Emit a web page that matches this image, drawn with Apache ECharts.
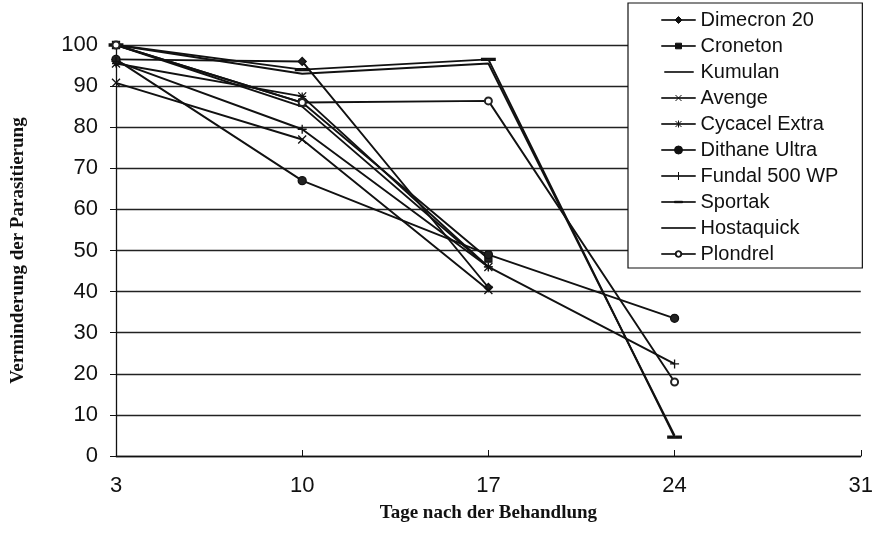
<!DOCTYPE html>
<html><head><meta charset="utf-8">
<script src="https://cdn.jsdelivr.net/npm/echarts@6/dist/echarts.min.js"></script>
<style>html,body{margin:0;padding:0;background:#fff}#c{width:876px;height:553px}</style>
</head><body><div id="c"></div>
<script>
var days = ['3', '10', '17', '24', '31'];
var yTicks = [0, 10, 20, 30, 40, 50, 60, 70, 80, 90, 100];
var names = ['Dimecron 20', 'Croneton', 'Kumulan', 'Avenge', 'Cycacel Extra', 'Dithane Ultra', 'Fundal 500 WP', 'Sportak', 'Hostaquick', 'Plondrel'];
var dimecron = [96.5, 96, 41, null, null];
var croneton = [100, 86, 48, null, null];
var kumulan = [100, 85, 46, null, null];
var avenge = [90.8, 77, 40.4, null, null];
var cycacel = [95.5, 87.5, 46, null, null];
var dithane = [96.5, 67, 49, 33.5, null];
var fundal = [96, 79.5, 46, 22.4, null];
var sportak = [100, 94, 96.5, 4.6, null];
var hostaquick = [100, 93, 95.5, 5, null];
var plondrel = [100, 86, 86.4, 18, null];

var symX = 'path://M0,0L10,10M10,0L0,10';
var symPlus = 'path://M5,0L5,10M0,5L10,5';
var symStar = 'path://M0,0L10,10M10,0L0,10M5,0L5,10M0,5L10,5';
var symDash = 'path://M0,0L10,0L10,2L0,2Z';

// legend icons (34 x 10 box; corner moves fix the box)
var box = 'M0,0M34,10';
var ln = 'M0,4.8L34,4.8L34,5.2L0,5.2Z';
var icons = [
  'path://' + box + ln + 'M17,1.5L20.5,5L17,8.5L13.5,5Z',
  'path://' + box + ln + 'M14,2.2L20,2.2L20,7.8L14,7.8Z',
  'path://' + box + 'M3,4.8L32,4.8L32,5.2L3,5.2Z',
  'path://' + box + ln + 'M14,2L20,8M20,2L14,8',
  'path://' + box + ln + 'M14,2L20,8M20,2L14,8M17,1.5L17,8.5',
  'path://' + box + ln + 'M21,5A4,4 0 1 1 13,5A4,4 0 1 1 21,5Z',
  'path://' + box + ln + 'M17,1L17,9',
  'path://' + box + ln + 'M13,4.3L21,4.3L21,5.7L13,5.7Z',
  'path://' + box + ln,
  'path://' + box + 'M0,4.8L13.8,4.8L13.8,5.2L0,5.2ZM20.2,4.8L34,4.8L34,5.2L20.2,5.2Z' +
    'M20.3,5A3.3,3.3 0 1 1 13.7,5A3.3,3.3 0 1 1 20.3,5ZM19.4,5A2.4,2.4 0 1 0 14.6,5A2.4,2.4 0 1 0 19.4,5Z'
];
var cfg = [
  [dimecron, 'diamond', 8],
  [croneton, 'rect', 7],
  [kumulan, 'none', 0],
  [avenge, symX, 8],
  [cycacel, symStar, 8],
  [dithane, 'circle', 8],
  [fundal, symPlus, 9],
  [sportak, symDash, [9, 2]],
  [hostaquick, 'none', 0],
  [plondrel, 'emptyCircle', 7]
];
var series = cfg.map(function (c, i) {
  return {
    name: names[i], type: 'line', data: c[0],
    symbol: c[1], symbolSize: c[2], showSymbol: c[1] !== 'none',
    lineStyle: { color: '#111', width: 1.9 },
    itemStyle: { color: '#222', borderColor: '#111', borderWidth: 1.3 },
    emphasis: { disabled: true }, animation: false
  };
});
var chart = echarts.init(document.getElementById('c'));
chart.setOption({
  animation: false,
  grid: { left: 116, right: 14, top: 45, bottom: 97 },
  xAxis: {
    type: 'category', data: days, boundaryGap: false,
    name: 'Tage nach der Behandlung', nameLocation: 'middle', nameGap: 48,
    nameTextStyle: { fontFamily: 'Liberation Serif', fontWeight: 'bold', fontSize: 19, color: '#111' },
    axisLine: { lineStyle: { color: '#111', width: 1.3 } },
    axisTick: { show: true, inside: true, length: 6, alignWithLabel: true, lineStyle: { color: '#111' } },
    axisLabel: { fontFamily: 'Liberation Sans', fontSize: 22, color: '#111', margin: 19 },
    splitLine: { show: false }
  },
  yAxis: {
    type: 'value', min: 0, max: 100, interval: 10,
    name: 'Verminderung der Parasitierung', nameLocation: 'middle', nameGap: 88,
    nameTextStyle: { fontFamily: 'Liberation Serif', fontWeight: 'bold', fontSize: 19, color: '#111' },
    axisLine: { show: true, lineStyle: { color: '#111', width: 1.3 } },
    axisTick: { show: true, length: 6, lineStyle: { color: '#111' } },
    axisLabel: { fontFamily: 'Liberation Sans', fontSize: 22, color: '#111', margin: 18,
      formatter: function (v) { return yTicks.indexOf(v) >= 0 ? String(v) : ''; } },
    splitLine: { show: true, lineStyle: { color: '#222', width: 1.3 } }
  },
  legend: {
    orient: 'vertical', left: 628, top: 3,
    padding: [7, 24, 4, 33], itemGap: 6, itemWidth: 34, itemHeight: 10,
    backgroundColor: '#fff', borderColor: '#111', borderWidth: 1.2, borderRadius: 0,
    itemStyle: { color: '#111', borderColor: '#111', borderWidth: 1 },
    textStyle: { fontFamily: 'Liberation Sans', fontSize: 20, color: '#111', lineHeight: 20 },
    data: names.map(function (n, i) { return { name: n, icon: icons[i] }; })
  },
  series: series
});
</script></body></html>
